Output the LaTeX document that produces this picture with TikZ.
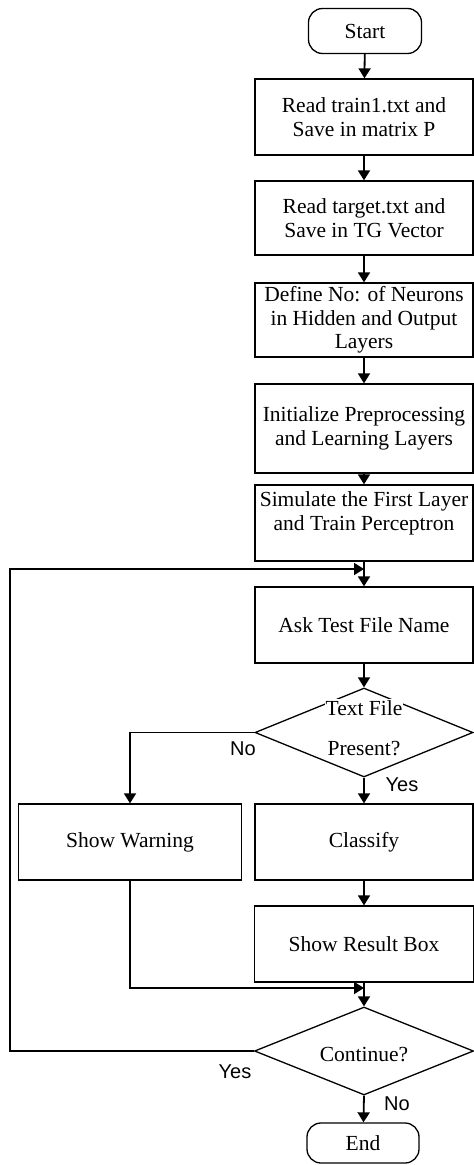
\documentclass[tikz,border=0pt]{standalone}
\usepackage{fontspec}
\setmainfont{Liberation Serif}
\newfontfamily\lblfont{Liberation Sans}
\usetikzlibrary{arrows.meta,shapes.geometric}
\begin{document}
\begin{tikzpicture}[x=1pt,y=-1pt,
  box/.style={draw,line width=1.3pt,inner sep=0pt,align=center,
    font=\fontsize{21.5}{23.5}\selectfont},
  term/.style={box,rounded corners=14pt},
  dia/.style={draw,line width=1.3pt,diamond,inner sep=0pt},
  dtext/.style={font=\fontsize{21.5}{23.5}\selectfont,inner sep=1pt},
  lbl/.style={font=\lblfont\fontsize{20}{22}\selectfont,inner sep=0pt},
  arr/.style={line width=1.8pt,-{Triangle[length=10pt,width=12pt]}},
  ln/.style={line width=1.8pt}]
\useasboundingbox (0,0) rectangle (474,1165);
\node[term,minimum width=113pt,minimum height=45pt] (start) at (365,31) {Start};
\node[box,minimum width=218pt,minimum height=76pt] (b1) at (364,117) {Read train1.txt and\\Save in matrix P};
\node[box,minimum width=218pt,minimum height=74pt] (b2) at (364,218) {Read target.txt and\\Save in TG Vector};
\node[box,minimum width=218pt,minimum height=74pt] (b3) at (364,320) {Define No: of Neurons\\in Hidden and Output\\Layers};
\node[box,minimum width=218pt,minimum height=89pt] (b4) at (364,428.5) {Initialize Preprocessing\\and Learning Layers};
\node[box,minimum width=218pt,minimum height=76pt] (b5) at (364,523) {Simulate the First Layer\\and Train Perceptron\\\mbox{}};
\node[box,minimum width=218pt,minimum height=76pt] (b6) at (364,625) {Ask Test File Name};
\node[dia,minimum width=218pt,minimum height=89pt] (d1) at (364,732.5) {};
\node[dtext,fill=white] (d1a) at (364,708) {Text File};
\node[dtext] (d1b) at (364,749) {Present?};
\node[box,minimum width=223pt,minimum height=76pt] (warn) at (130,842) {Show Warning};
\node[box,minimum width=218pt,minimum height=76pt] (cls) at (364,842) {Classify};
\node[box,minimum width=219pt,minimum height=76pt] (res) at (364,944) {Show Result Box};
\node[dia,minimum width=219pt,minimum height=88pt] (d2) at (364,1051) {};
\node[dtext] (d2a) at (364,1055) {Continue?};
\node[term,minimum width=112pt,minimum height=40pt] (end) at (363,1143) {End};

\coordinate (j1) at (364,569);
\coordinate (j2) at (364,988);
\coordinate (lp) at (10,1051);

\draw[arr] (start) -- (b1);
\draw[arr] (b1) -- (b2);
\draw[arr] (b2) -- (b3);
\draw[arr] (b3) -- (b4);
\draw[arr] (b4) -- (b5);
\draw[arr] (b5) -- (b6);
\draw[arr] (b6) -- (d1);
\draw[arr] (d1.south) -- (cls);
\draw[arr] (d1.west) -| (warn.north);
\draw[arr] (cls) -- (res);
\draw[arr] (res) -- (d2);
\draw[arr] (warn.south) |- (j2);
\draw[arr] (d2.south) -- (end);
\draw[arr] (d2.west) -- (lp) |- (j1);

\node[lbl] (lno1) at (243,749) {No};
\node[lbl] (lyes1) at (402,785) {Yes};
\node[lbl] (lyes2) at (235,1072) {Yes};
\node[lbl] (lno2) at (397,1104) {No};
\end{tikzpicture}
\end{document}
